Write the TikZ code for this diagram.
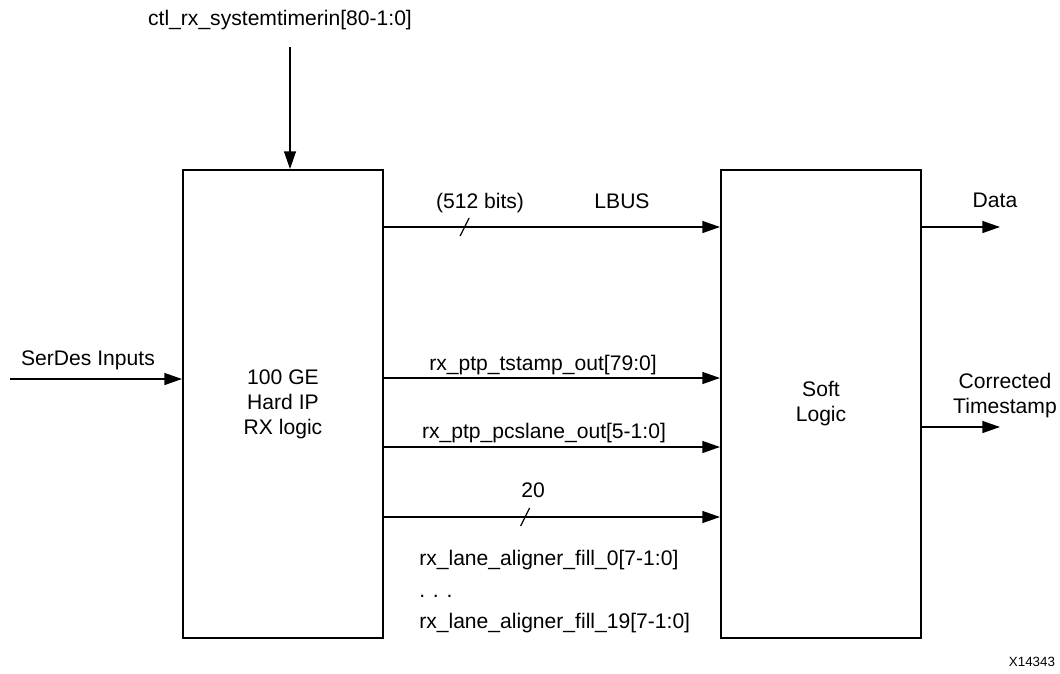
\documentclass[tikz,border=0pt]{standalone}
\usepackage{fontspec}
\setmainfont{Liberation Sans}
\usetikzlibrary{arrows.meta,positioning,calc}

\begin{document}
\begin{tikzpicture}[x=0.025cm, y=-0.025cm,
	font=\fontsize{15}{17.8}\selectfont,
	blockbox/.style={
		rectangle,
		draw,
		line width=1.4pt,
		minimum width=5cm,
		minimum height=11.7cm,
		align=center
	},
	sig/.style={
		-{Triangle[length=12.5pt,width=8.5pt]},
		line width=0.9pt
	},
	busmark/.style={
		line width=0.9pt
	},
	sigtext/.style={
		inner sep=0pt,
		anchor=base
	},
	sigtwoline/.style={
		inner sep=0pt,
		align=center
	}
	]
	
	\useasboundingbox (0,0) rectangle (1060,673);
	
	% Blocks
	\node[blockbox] (hardip) at (283,404) {100 GE\\Hard IP\\RX logic};
	\node[blockbox] (softlogic) at (821,404) {Soft\\Logic};
	
	% Control input from top
	\node[sigtext] (ctlname) at (280,25) {ctl\_rx\_systemtimerin[80-1:0]};
	\coordinate (ctlstart) at (290,47);
	\draw[sig] (ctlstart) -- (ctlstart |- hardip.north);
	
	% SerDes input
	\coordinate (serdesin) at (10,379);
	\draw[sig] (serdesin) -- (serdesin -| hardip.west);
	\node[sigtext] (serdesname) at (88,365) {SerDes Inputs};
	
	% Signals between the blocks
	\draw[sig] (hardip.east |- 0,227) -- coordinate[pos=0.24] (lbusmark) (softlogic.west |- 0,227);
	\draw[busmark] (lbusmark) ++(-4.5,9) -- ++(9,-18);
	\node[sigtext] (lbuswidth) at (480,208) {(512 bits)};
	\node[sigtext] (lbusname) at (622,208) {LBUS};
	
	\draw[sig] (hardip.east |- 0,378) -- (softlogic.west |- 0,378);
	\node[sigtext] (tstampname) at (543,370) {rx\_ptp\_tstamp\_out[79:0]};
	
	\draw[sig] (hardip.east |- 0,447) -- (softlogic.west |- 0,447);
	\node[sigtext] (pcslanename) at (544,438) {rx\_ptp\_pcslane\_out[5-1:0]};
	
	\draw[sig] (hardip.east |- 0,517) -- coordinate[pos=0.42] (fillmark) (softlogic.west |- 0,517);
	\draw[busmark] (fillmark) ++(-4.5,9) -- ++(9,-18);
	\node[sigtext] (fillwidth) at (533,497) {20};
	\node[sigtext, anchor=base west] (fillfirst) at (419,565) {rx\_lane\_aligner\_fill\_0[7-1:0]};
	\node[sigtext, anchor=base west] (filldots) at (419,597) {. . .};
	\node[sigtext, anchor=base west] (filllast) at (419,628) {rx\_lane\_aligner\_fill\_19[7-1:0]};
	
	% Outputs
	\coordinate (dataout) at (1000,227);
	\draw[sig] (softlogic.east |- dataout) -- (dataout);
	\node[sigtext] (dataname) at (995,207) {Data};
	
	\coordinate (tsout) at (1000,427);
	\draw[sig] (softlogic.east |- tsout) -- (tsout);
	\node[sigtwoline] (tsname) at (1005,396) {Corrected\\Timestamp};
	
	\node[sigtext, font=\fontsize{9.5}{11}\selectfont] (figid) at (1032,666) {X14343};
	
\end{tikzpicture}
\end{document}
